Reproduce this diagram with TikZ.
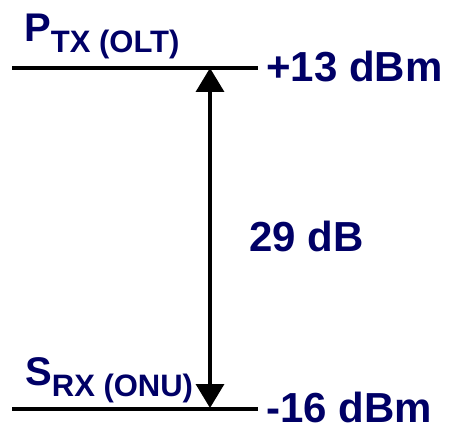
\documentclass[tikz,border=0pt]{standalone}
\usepackage{fontspec}
\setmainfont{Liberation Sans}
\usetikzlibrary{arrows.meta}
\definecolor{levelblue}{RGB}{0,0,102}
\tikzset{
  level/.style={line width=3.3pt},
  budget/.style={line width=3.5pt, {Triangle[length=24pt,width=28pt]}-{Triangle[length=24pt,width=28pt]}},
  lbl/.style={inner sep=0pt, anchor=base west, text depth=0pt, text=levelblue, font=\bfseries\fontsize{42}{42}\selectfont},
}
\newcommand{\sublbl}[2]{{\fontsize{40}{40}\selectfont #1}\raisebox{-11pt}{\fontsize{31}{31}\selectfont #2}}

\begin{document}
\begin{tikzpicture}[x=1pt,y=-1pt]
  \useasboundingbox (0,0) rectangle (452,427);

  % Transmit level
  \coordinate (txl) at (12,68);
  \coordinate (txr) at (258,68);
  \draw[level] (txl) -- (txr);
  \node[lbl] (ptx) at (24,42) {\sublbl{P}{TX (OLT)}};
  \node[lbl] (txdbm) at (266,82) {+13 dBm};

  % Receive level
  \coordinate (rxl) at (12,409);
  \coordinate (rxr) at (258,409);
  \draw[level] (rxl) -- (rxr);
  \node[lbl] (srx) at (25,385) {\sublbl{S}{RX (ONU)}};
  \node[lbl] (rxdbm) at (266,422) {-16 dBm};

  % Budget arrow
  \coordinate (btop) at (210,68);
  \coordinate (bbot) at (210,408);
  \draw[budget] (btop) -- (bbot);
  \node[lbl] (db) at (249,252) {29 dB};
\end{tikzpicture}
\end{document}
